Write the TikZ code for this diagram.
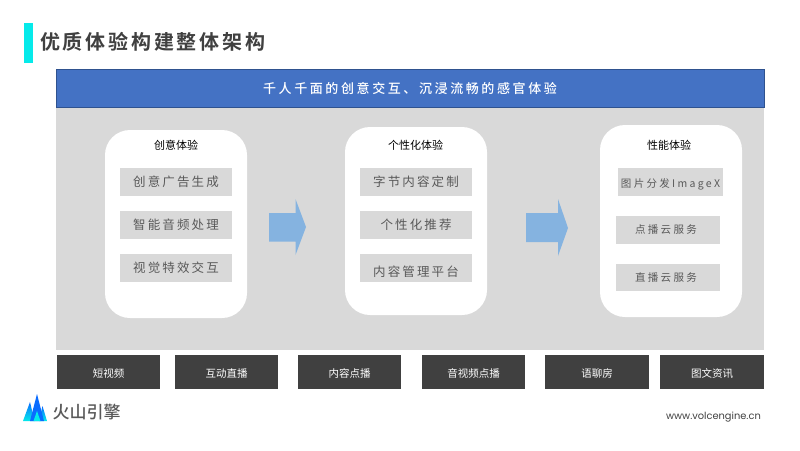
\documentclass[tikz,border=0pt]{standalone}
\usepackage{fontspec}
\setmainfont{Noto Sans CJK SC}
\newfontfamily\cjktitle[LetterSpace=14]{Noto Sans CJK SC Bold}
\newfontfamily\cjkhead[LetterSpace=20]{Noto Sans CJK SC Medium}
\newfontfamily\cjkitem[LetterSpace=17]{Noto Sans CJK SC}
\newfontfamily\cjkitemb[LetterSpace=22]{Noto Sans CJK SC}
\newfontfamily\brandfont{Noto Sans CJK SC Medium}
\newfontfamily\urlfont{Poppins}
\definecolor{accent}{HTML}{05EAEA}
\definecolor{headblue}{HTML}{4472C4}
\definecolor{headedge}{HTML}{2F528F}
\definecolor{panel}{HTML}{D9D9D9}
\definecolor{dark}{HTML}{404040}
\definecolor{arrowblue}{HTML}{85B3E0}
\definecolor{itemtext}{HTML}{595959}
\definecolor{logoblue}{HTML}{0A6CFF}
\begin{document}
\begin{tikzpicture}[x=1pt,y=-1pt,
  cardbox/.style={fill=white,rounded corners=25pt,inner sep=0pt},
  itembox/.style={fill=panel,inner sep=0pt,text=itemtext,font=\fontsize{12.5}{14}\cjkitem},
  smallitem/.style={itembox,font=\fontsize{10.5}{12}\cjkitemb},
  cardtitle/.style={font=\fontsize{11}{13}\selectfont,text=black,inner sep=0pt},
  scene/.style={fill=dark,inner sep=0pt,text=white,font=\fontsize{10.5}{12}\selectfont,minimum height=34pt,text height=10pt,text depth=0pt}]
\useasboundingbox (0,0) rectangle (800,450);
\fill[white] (0,0) rectangle (800,450);
\fill[accent] (24,23) rectangle (33,63);
\node[anchor=west,inner sep=0pt,text=dark,font=\fontsize{20}{24}\cjktitle] (title) at (40,42) {优质体验构建整体架构};
\fill[panel] (56,108) rectangle (764,350);
\node[fill=headblue,draw=headedge,line width=0.75pt,minimum width=708pt,minimum height=38pt,inner sep=0pt,text=white,font=\fontsize{13}{15}\cjkhead] (head) at (410,88.5) {千人千面的创意交互、沉浸流畅的感官体验};

\node[cardbox,minimum width=142pt,minimum height=188pt] (c1) at (176,224) {};
\node[cardbox,minimum width=142pt,minimum height=188pt] (c2) at (416,221) {};
\node[cardbox,minimum width=142pt,minimum height=192pt] (c3) at (671,221) {};
\node[cardtitle] (t1) at (176,145) {创意体验};
\node[cardtitle] (t2) at (415.5,145) {个性化体验};
\node[cardtitle] (t3) at (669,145) {性能体验};

\foreach \n/\cx/\cy/\txt in {a1/176/182/创意广告生成,a2/176/225/智能音频处理,a3/176/268/视觉特效交互,b1/416/182/字节内容定制,b2/416/225/个性化推荐}
  \node[itembox,minimum width=112pt,minimum height=28pt] (\n) at (\cx,\cy) {\txt};
\node[itembox,minimum width=112pt,minimum height=28pt,text height=16pt,text depth=0pt] (b3) at (416,268) {内容管理平台};
\node[smallitem,minimum width=105pt,minimum height=28pt,text height=10.5pt,text depth=0pt] (d1) at (670.5,182) {图片分发ImageX};
\node[smallitem,minimum width=104pt,minimum height=28pt] (d2) at (668,230) {\hspace{-4pt}点播云服务};
\node[smallitem,minimum width=104pt,minimum height=27pt] (d3) at (668,277.5) {\hspace{-4pt}直播云服务};

\fill[arrowblue] (269,213) -- (295.5,213) -- (295.5,199) -- (306,227) -- (295.5,255) -- (295.5,241.5) -- (269,241.5) -- cycle;
\fill[arrowblue] (526,213) -- (558,213) -- (558,199) -- (568,228) -- (558,256) -- (558,242) -- (526,242) -- cycle;

\foreach \n/\cx/\w/\txt in {s1/108.5/103/短视频,s2/226.5/103/互动直播,s3/349.5/103/内容点播,s4/473.5/103/音视频点播,s5/597/104/语聊房,s6/712/104/图文资讯}
  \node[scene,minimum width=\w pt] (\n) at (\cx,372) {\txt};

% logo
\shade[top color=logoblue,bottom color=accent] (23,421) -- (30,402) -- (34.5,421) -- cycle;
\shade[top color=logoblue,bottom color=accent] (39,421) -- (42.5,406) -- (47,421) -- cycle;
\fill[logoblue] (30,421) -- (37,394) -- (44,421) -- cycle;
\fill[accent] (33.5,421) -- (37,411) -- (40.5,421) -- cycle;
\node[anchor=west,inner sep=0pt,text=itemtext,font=\fontsize{17}{19}\brandfont] (brand) at (52.5,412) {火山引擎};
\node[anchor=east,inner sep=0pt,text=dark,font=\fontsize{9.85}{11}\urlfont] (url) at (761,417) {www.volcengine.cn};
\end{tikzpicture}
\end{document}
